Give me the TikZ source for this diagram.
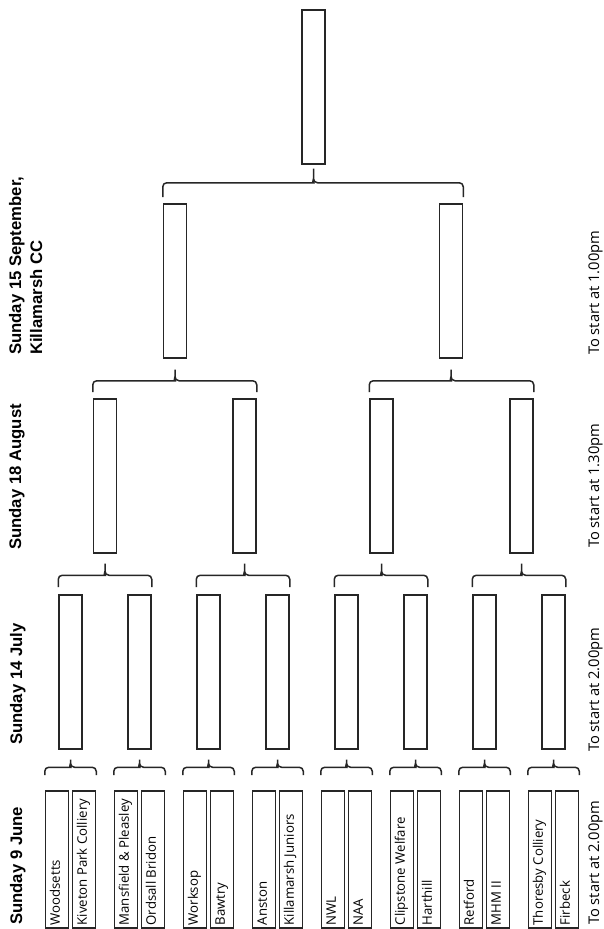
\documentclass[tikz,border=0pt]{standalone}
\usepackage{fontspec}
\setmainfont{Open Sans}
\newfontfamily\hfont{Liberation Sans}
\usetikzlibrary{calc}
\newcommand\bkt[5]{% left node, right node, parent node, end gap, tip gap
  \draw[bk] let \p1=($(#1.north west)+(0,-#4)$), \p2=($(#2.north east)+(0,-#4)$),
      \p3=($(#3.south)+(0,#5)$), \p4=($(\p1)!0.5!(\x1,\y3)$) in
    [rounded corners=4pt] (\x1,\y1) -- (\x1,\y4) -- ({\x3-4pt},\y4) [sharp corners]
      to[out=0,in=-90] (\x3,{\y4+4pt}) -- (\x3,\y3)
    (\x3,{\y4+4pt}) to[out=-90,in=180] ({\x3+4pt},\y4) [rounded corners=4pt]
      -- (\x2,\y4) -- (\x2,\y1);
}
\begin{document}
\begin{tikzpicture}[x=1pt,y=-1pt,
  box/.style={draw=black!85, line width=1.5pt, inner sep=0pt, minimum width=23pt, minimum height=154pt, anchor=north},
  teambox/.style={draw=black!85, line width=1.5pt, inner sep=0pt, minimum width=23pt, minimum height=137pt, anchor=north},
  bk/.style={draw=black!85, line width=1.5pt},
  hd/.style={rotate=90, anchor=base west, inner sep=0pt, font=\hfont\bfseries\fontsize{16.7}{20}\selectfont},
  tm/.style={rotate=90, anchor=base west, inner sep=0pt, font=\fontsize{13.2}{16}\selectfont},
  tl/.style={rotate=90, anchor=base west, inner sep=0pt, font=\fontsize{14.7}{18}\selectfont},
]
\useasboundingbox (0,0) rectangle (603,929);
\fill[white] (0,0) rectangle (603,929);
% round 1 teams and boxes
\foreach \i/\ta/\tb in {1/Woodsetts/Kiveton Park Colliery, 2/Mansfield \& Pleasley/Ordsall Bridon,
   3/Worksop/Bawtry, 4/Anston/Killamarsh Juniors, 5/NWL/NAA, 6/Clipstone Welfare/Harthill,
   7/Retford/MHM II, 8/Thoresby Colliery/Firbeck}{
  \pgfmathsetmacro\cx{70.5+69*(\i-1)}
  \node[teambox] (ta\i) at (\cx-13.5,790) {};
  \node[teambox] (tb\i) at (\cx+13.5,790) {};
  \node[tm] (la\i) at ($(ta\i.south west)+(15,-3)$) {\ta};
  \node[tm] (lb\i) at ($(tb\i.south west)+(15,-3)$) {\tb};
  \node[box] (r\i) at (\cx,594) {};
}
% quarter, semi, final boxes
\node[box] (q1) at (105,398) {};
\node[box] (q2) at (244.5,398) {};
\node[box] (q3) at (381.5,398) {};
\node[box] (q4) at (521.5,398) {};
\node[box] (s1) at (175,203) {};
\node[box] (s2) at (451,203) {};
\node[box] (f) at (313.5,9) {};
% braces
\foreach \i in {1,...,8}{ \bkt{ta\i}{tb\i}{r\i}{15}{10} }
\bkt{r1}{r2}{q1}{7}{10}
\bkt{r3}{r4}{q2}{7}{10}
\bkt{r5}{r6}{q3}{7}{10}
\bkt{r7}{r8}{q4}{7}{10}
\bkt{q1}{q2}{s1}{6}{11}
\bkt{q3}{q4}{s2}{6}{11}
\bkt{s1}{s2}{f}{6}{4}
% headings
\node[hd] (h1) at (22,925) {Sunday 9 June};
\node[hd] (h2) at (22,745) {Sunday 14 July};
\node[hd] (h3) at (21,550) {Sunday 18 August};
\node[hd] (h4) at (21,355) {Sunday 15 September,};
\node[hd] (h5) at (42,355) {Killamarsh CC};
% times
\node[tl] (s9) at (599,925) {To start at 2.00pm};
\node[tl] (s14) at (599,752) {To start at 2.00pm};
\node[tl] (s18) at (599,548) {To start at 1.30pm};
\node[tl] (s15) at (599,355) {To start at 1.00pm};
\end{tikzpicture}
\end{document}
